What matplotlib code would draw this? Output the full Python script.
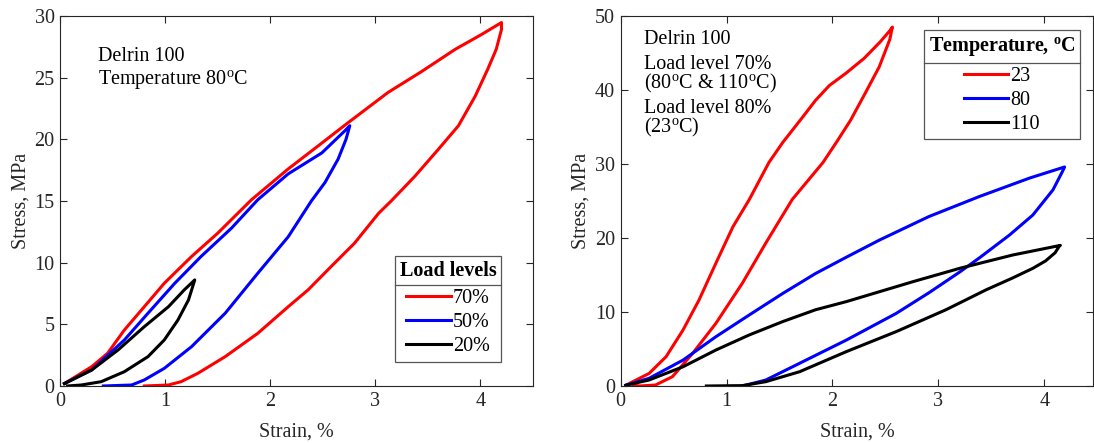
import numpy as np
import matplotlib.pyplot as plt
from matplotlib.lines import Line2D

plt.rcParams['font.family'] = ['Liberation Serif', 'DejaVu Serif']
plt.rcParams['mathtext.fontset'] = 'custom'
plt.rcParams['mathtext.rm'] = 'Liberation Serif'
plt.rcParams['mathtext.it'] = 'Liberation Serif'
plt.rcParams['mathtext.bf'] = 'Liberation Serif:bold'
FS = 14.5
INK = '#262626'

# Delrin 100 at 80 C, three load levels (strain %, stress MPa), loading then unloading
lvl70_strain = [0.04, 0.30, 0.45, 0.61, 0.80, 0.99, 1.25, 1.50, 1.82, 2.17, 2.49, 2.74, 3.12, 3.44, 3.76, 4.01, 4.2,
                4.2, 4.15, 4.07, 3.95, 3.79, 3.6, 3.375, 3.15, 3.03, 2.80, 2.58, 2.36, 2.17, 1.88, 1.57, 1.31, 1.15,
                1.03, 0.80]
lvl70_stress = [0.2, 1.57, 2.65, 4.54, 6.43, 8.33, 10.5, 12.4, 15.1, 17.6, 19.7, 21.35, 23.8, 25.5, 27.3, 28.5, 29.47,
                28.9, 27.3, 25.7, 23.5, 21.1, 19.2, 17.0, 15.0, 14.0, 11.57, 9.7, 7.8, 6.43, 4.27, 2.38, 1.03, 0.35,
                0.08, 0]
lvl50_strain = [0.04, 0.30, 0.61, 0.835, 1.09, 1.34, 1.63, 1.88, 2.17, 2.49, 2.71, 2.756,
                2.72, 2.645, 2.52, 2.39, 2.17, 1.88, 1.57, 1.25, 0.99, 0.80, 0.68, 0.41]
lvl50_stress = [0.2, 1.3, 3.73, 5.9, 8.33, 10.5, 12.8, 15.1, 17.2, 18.9, 20.7, 21.1,
                20.0, 18.4, 16.5, 15.0, 12.1, 9.14, 5.9, 3.19, 1.43, 0.49, 0.08, 0]
lvl20_strain = [0.04, 0.30, 0.55, 0.80, 1.03, 1.18, 1.28,
                1.26, 1.22, 1.12, 0.99, 0.835, 0.61, 0.39, 0.20, 0.07]
lvl20_stress = [0.2, 1.3, 2.92, 4.81, 6.43, 7.79, 8.6,
                8.05, 6.97, 5.35, 3.73, 2.38, 1.16, 0.35, 0.08, 0]

# Temperature comparison (23 C at 80% load, 80 and 110 C at 70% load)
t23_strain = [0.05, 0.27, 0.43, 0.59, 0.74, 0.90, 1.06, 1.215, 1.40, 1.53, 1.70, 1.84, 1.97, 2.13, 2.30, 2.45, 2.54,
              2.565, 2.54, 2.44, 2.31, 2.17, 2.04, 1.91, 1.62, 1.37, 1.15, 0.90, 0.68, 0.49, 0.33, 0.18, 0.12]
t23_stress = [0.1, 1.7, 3.96, 7.57, 11.6, 16.6, 21.5, 25.2, 30.2, 32.9, 36.0, 38.6, 40.6, 42.3, 44.3, 46.5, 48.0,
              48.5, 46.8, 43.1, 39.6, 35.9, 33.0, 30.2, 25.2, 19.3, 13.9, 8.47, 4.4, 1.26, 0.13, 0, 0.1]
t80_strain = [0.05, 0.27, 0.59, 0.90, 1.215, 1.53, 1.84, 2.13, 2.44, 2.91, 3.385, 3.86, 4.19,
              4.17, 4.08, 3.89, 3.67, 3.385, 3.2, 2.91, 2.6, 2.13, 1.69, 1.37, 1.15]
t80_stress = [0.1, 1.04, 3.5, 6.66, 9.6, 12.5, 15.2, 17.4, 19.7, 22.9, 25.6, 28.1, 29.6,
              29.0, 26.5, 23.1, 20.4, 17.3, 15.4, 12.6, 9.8, 6.2, 3.07, 0.8, 0]
t110_strain = [0.05, 0.27, 0.59, 0.90, 1.215, 1.53, 1.84, 2.13, 2.76, 3.2, 3.70, 4.15,
               4.14, 4.10, 4.01, 3.89, 3.70, 3.45, 3.07, 2.6, 2.13, 1.69, 1.37, 1.15, 0.81]
t110_stress = [0.1, 0.81, 2.6, 4.86, 6.9, 8.7, 10.3, 11.4, 14.1, 15.9, 17.7, 19.0,
               18.9, 18.0, 16.9, 15.9, 14.6, 13.0, 10.3, 7.34, 4.64, 1.93, 0.58, 0.05, 0]

load_labels = ['70%', '50%', '20%']
temp_labels = ['23', '80', '110']
colors = ['#ff0000', '#0000ff', '#000000']

fig = plt.figure(figsize=(10.94, 4.43), dpi=100)
ax1 = fig.add_axes([0.0551, 0.1287, 0.4321, 0.8352])
ax2 = fig.add_axes([0.5672, 0.1287, 0.4321, 0.8352])


def style_axes(ax, xmax, ymax, ystep):
    ax.set_xlim(0, xmax)
    ax.set_ylim(0, ymax)
    ax.set_xticks([0, 1, 2, 3, 4])
    ax.set_yticks(np.arange(0, ymax + 1, ystep))
    ax.tick_params(direction='in', top=True, right=True, length=5, width=0.8,
                   labelsize=FS, colors=INK, pad=4)
    for s in ax.spines.values():
        s.set_linewidth(0.8)
        s.set_color(INK)
    ax.set_xlabel('Strain, %', fontsize=FS, color=INK, labelpad=9)
    ax.set_ylabel('Stress, MPa', fontsize=FS, color=INK, labelpad=3)


for xs, ys, c, lab in zip([lvl70_strain, lvl50_strain, lvl20_strain],
                          [lvl70_stress, lvl50_stress, lvl20_stress], colors, load_labels):
    ax1.plot(xs, ys, color=c, lw=2.2, label=lab, solid_joinstyle='round')
style_axes(ax1, 4.5, 30, 5)
ax1.text(0.08, 0.878, 'Delrin 100', transform=ax1.transAxes, fontsize=FS, va='baseline')
ax1.text(0.08, 0.815, r'Temperature 80$^{\mathrm{o}}$C', transform=ax1.transAxes,
         fontsize=FS, va='baseline')

for xs, ys, c, lab in zip([t23_strain, t80_strain, t110_strain],
                          [t23_stress, t80_stress, t110_stress], colors, temp_labels):
    ax2.plot(xs, ys, color=c, lw=2.2, label=lab, solid_joinstyle='round')
style_axes(ax2, 4.46, 50, 10)
ax2.text(0.049, 0.9235, 'Delrin 100', transform=ax2.transAxes, fontsize=FS, va='baseline')
ax2.text(0.049, 0.8035, 'Load level 70%\n' + r'(80$^{\mathrm{o}}$C & 110$^{\mathrm{o}}$C)',
         transform=ax2.transAxes, fontsize=FS, va='baseline', linespacing=0.9)
ax2.text(0.049, 0.6846, 'Load level 80%\n' + r'(23$^{\mathrm{o}}$C)',
         transform=ax2.transAxes, fontsize=FS, va='baseline', linespacing=0.9)

legends = []
for ax, title, anchor in [(ax1, 'Load levels', (0.7074, 0.352)),
                          (ax2, r'Temperature, $^{\mathbf{o}}$C', (0.641, 0.961))]:
    leg = ax.legend(loc='upper left', bbox_to_anchor=anchor, borderaxespad=0,
                    title=title, title_fontproperties={'size': FS, 'weight': 'bold'},
                    fontsize=FS, handlelength=2.2, handletextpad=0.1, labelspacing=0.25,
                    fancybox=False, framealpha=1, edgecolor='#555555', borderpad=0.25)
    leg.get_frame().set_linewidth(0.9)
    leg._legend_box.sep = 6
    legends.append(leg)

# thin rule between each legend title and its entries
fig.canvas.draw()
r = fig.canvas.get_renderer()
inv = fig.transFigure.inverted()
for leg in legends:
    fb = leg.get_frame().get_window_extent(r)
    tb = leg.get_title().get_window_extent(r)
    hb = leg._legend_handle_box.get_window_extent(r)
    yline = 0.5 * (tb.y0 + hb.y1)
    (x0, y0), (x1, _) = inv.transform([(fb.x0, yline), (fb.x1, yline)])
    fig.add_artist(Line2D([x0, x1], [y0, y0], transform=fig.transFigure,
                          color='#555555', lw=0.9))

fig.savefig('out.png', dpi=100)
